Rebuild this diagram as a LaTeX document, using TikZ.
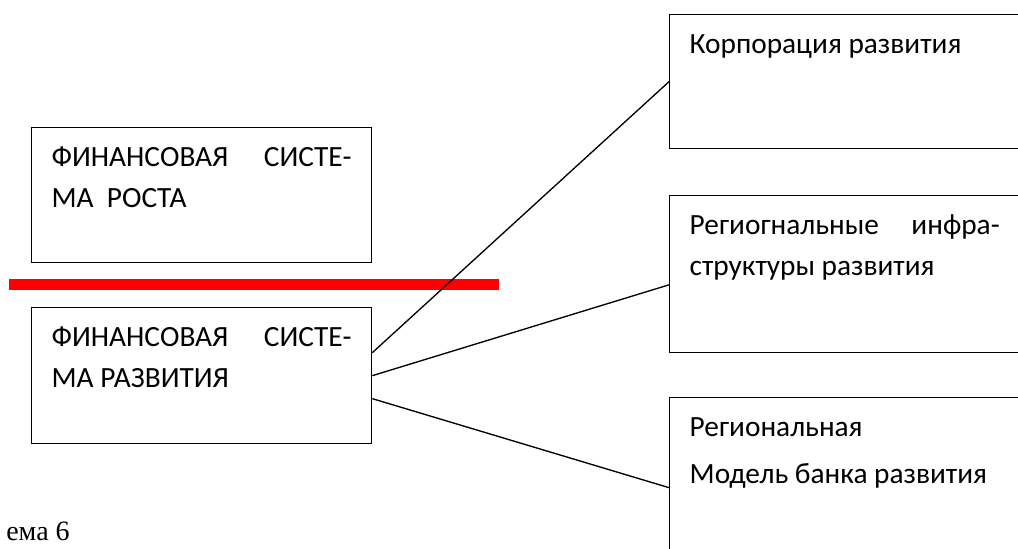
\documentclass[tikz,border=0pt]{standalone}
\usepackage{fontspec}
\setmainfont{Carlito}
\newfontfamily\captionfont{Liberation Serif}
\newcommand{\boxbody}[3]{\parbox[t][#1][t]{#2}{\rule{0pt}{29.25pt}#3}}
\begin{document}
\begin{tikzpicture}[
        x=0.75pt, y=-0.75pt,
        box/.style={rectangle, draw=black, line width=1pt, anchor=north west, inner xsep=15pt, inner ysep=0pt, font=\fontsize{22pt}{30.5pt}\selectfont},
        link/.style={-, line width=1pt},
        cut/.style={red, line width=8.25pt}
    ]
    \useasboundingbox (0,0) rectangle (1018,549);
    \clip (0,0) rectangle (1018,549);

    \node[box] (growth) at (31,127) {\boxbody{101.25pt}{225pt}{ФИНАНСОВАЯ\hfill СИСТЕ-\\МА~~РОСТА}};
    \node[box] (devsys) at (31,307) {\boxbody{102pt}{225pt}{ФИНАНСОВАЯ\hfill СИСТЕ-\\МА РАЗВИТИЯ}};
    \node[box] (corp) at (669,14) {\boxbody{100.5pt}{232.5pt}{Корпорация развития}};
    \node[box] (infra) at (669,195) {\boxbody{117.75pt}{232.5pt}{Региогнальные\hfill инфра-\\структуры развития}};
    \node[box] (bank) at (669,397) {\boxbody{135pt}{232.5pt}{Региональная\\[4.8pt]Модель банка развития}};
    \node[font=\captionfont\fontsize{21pt}{25pt}\selectfont, anchor=base west, inner sep=0pt] (scheme) at (6,540) {ема 6};

    \draw[cut] (9,284.5) -- (499,284.5);
    \draw[link] ([yshift=17.25pt]devsys.east) -- (corp.west);
    \draw[link] (devsys.east) -- ([yshift=-8pt]infra.west);
    \draw[link] ([yshift=-17.25pt]devsys.east) -- (bank.west);

\end{tikzpicture}
\end{document}
